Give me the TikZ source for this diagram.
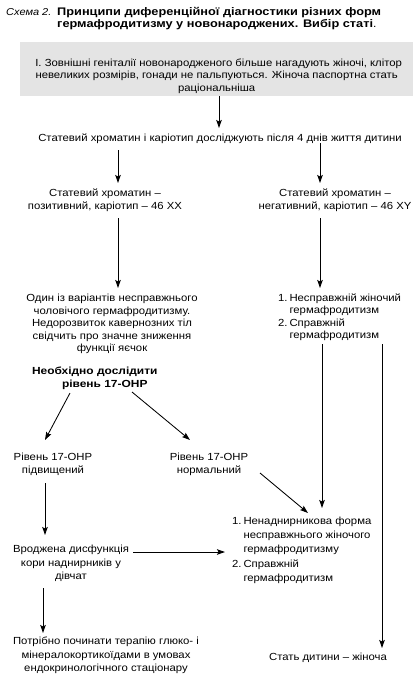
\documentclass[tikz,border=0pt]{standalone}
\usepackage{fontspec}
\setmainfont{Liberation Sans}[FakeStretch=1.1]
\newfontfamily\boldwide{Liberation Sans}[FakeStretch=1.16]
\usetikzlibrary{arrows.meta,calc}
\definecolor{boxgray}{RGB}{228,228,228}
\newcommand{\fs}{\fontsize{10.3pt}{12.6pt}\selectfont}
\newcommand{\fsb}{\fontsize{10.3pt}{13.4pt}\selectfont}
\newcommand{\numlab}[1]{\makebox[11.5pt][l]{#1}}
\tikzset{
  txt/.style={font=\fs, align=center, inner sep=0pt, outer sep=0pt},
  txtb/.style={txt, font=\fsb},
  arr/.style={-{Stealth[length=8pt,width=5.5pt,inset=1.5pt]}, line width=0.85pt},
}
\begin{document}
\begin{tikzpicture}[x=1pt,y=-1pt]
\useasboundingbox (0,0) rectangle (416,693);
% title
\node[font=\fontsize{11pt}{12.3pt}\selectfont, anchor=west, inner sep=0pt] (title) at (6,19)
 {\begin{tabular}{@{}l@{}l@{}}\makebox[51pt][l]{\fontsize{10pt}{12pt}\selectfont\textit{Схема 2.}}&{\boldwide\bfseries Принципи диференційної діагностики різних форм}\\
  &{\boldwide\bfseries гермафродитизму у новонароджених. Вибір статі}.\end{tabular}};
% gray box
\node[fill=boxgray, minimum width=393pt, minimum height=54pt, inner sep=0pt, anchor=north west] (box) at (20,42) {};
\node[txt] (boxtext) at ([yshift=-7pt]box.center)
 {\hspace*{4pt}І. Зовнішні геніталії новонародженого більше нагадують жіночі, клітор\\
  невеликих розмірів, гонади не пальпуються. Жіноча паспортна стать\\
  раціональніша};
\node[txt] (n2) at (220,139) {Статевий хроматин і каріотип досліджують після 4 днів життя дитини};
\node[txt] (n3L) at (105,200.5) {Статевий хроматин –\\ позитивний, каріотип – 46 XX};
\node[txt] (n3R) at (335,200.5) {Статевий хроматин –\\ негативний, каріотип – 46 XY};
\node[txt] (n4L) at (112,324) {Один із варіантів несправжнього\\ чоловічого гермафродитизму.\\ Недорозвиток кавернозних тіл\\ свідчить про значне зниження\\ функції яєчок};
\node[txt, anchor=west] (n4R) at (278,317.5)
 {\begin{tabular}{@{}l@{}l@{}}\numlab{1.}&Несправжній жіночий\\ &гермафродитизм\\ \numlab{2.}&Справжній\\ &гермафродитизм\end{tabular}};
\node[txt, align=left, anchor=west, font=\fs\boldwide\bfseries] (n5) at (32,378.5) {Необхідно дослідити\\ \hspace*{30pt}рівень 17-ОНР};
\node[txt] (n6L) at (53,464.5) {Рівень 17-ОНР\\ підвищений};
\node[txt] (n6R) at (209,464.5) {Рівень 17-ОНР\\ нормальний};
\node[txtb, anchor=west] (n7R) at (232,550)
 {\renewcommand{\arraystretch}{1.06}\begin{tabular}{@{}l@{}l@{}}\numlab{1.}&Ненаднирникова форма\\ &несправжнього жіночого\\ &гермафродитизму\\ \numlab{2.}&Справжній\\ &гермафродитизм\end{tabular}};
\node[txtb] (n7L) at (71,563.5) {Вроджена дисфункція\\ кори наднирників у\\ дівчат};
\node[txtb] (n8L) at (106,655.5) {Потрібно починати терапію глюко- і\\ мінералокортикоїдами в умовах\\ ендокринологічного стаціонару};
\node[txt] (n8R) at (328,658) {Стать дитини – жіноча};
% connectors
\coordinate (c1) at (219,128);
\draw[arr] (box.south -| c1) -- (c1);
\coordinate (c2a) at (118,150); \coordinate (c2b) at (118,183);
\draw[arr] (c2a) -- (c2b);
\coordinate (c3a) at (320,143); \coordinate (c3b) at (320,183);
\draw[arr] (c3a) -- (c3b);
\coordinate (c4a) at (118,218); \coordinate (c4b) at (118,288);
\draw[arr] (c4a) -- (c4b);
\coordinate (c5a) at (320,218); \coordinate (c5b) at (320,288);
\draw[arr] (c5a) -- (c5b);
\coordinate (c6a) at (322,344); \coordinate (c6b) at (322,508);
\draw[arr] (c6a) -- (c6b);
\coordinate (c7a) at (382,344); \coordinate (c7b) at (382,648);
\draw[arr] (c7a) -- (c7b);
\coordinate (c8a) at (70,393); \coordinate (c8b) at (45,440);
\draw[arr] (c8a) -- (c8b);
\coordinate (c9a) at (132,392); \coordinate (c9b) at (190,440);
\draw[arr] (c9a) -- (c9b);
\coordinate (c10a) at (260,473); \coordinate (c10b) at (308,513);
\draw[arr] (c10a) -- (c10b);
\coordinate (c11a) at (45,483); \coordinate (c11b) at (45,535);
\draw[arr] (c11a) -- (c11b);
\coordinate (c12a) at (133,552); \coordinate (c12b) at (225,552);
\draw[arr] (c12a) -- (c12b);
\coordinate (c13a) at (43,588); \coordinate (c13b) at (43,633);
\draw[arr] (c13a) -- (c13b);
\end{tikzpicture}
\end{document}
